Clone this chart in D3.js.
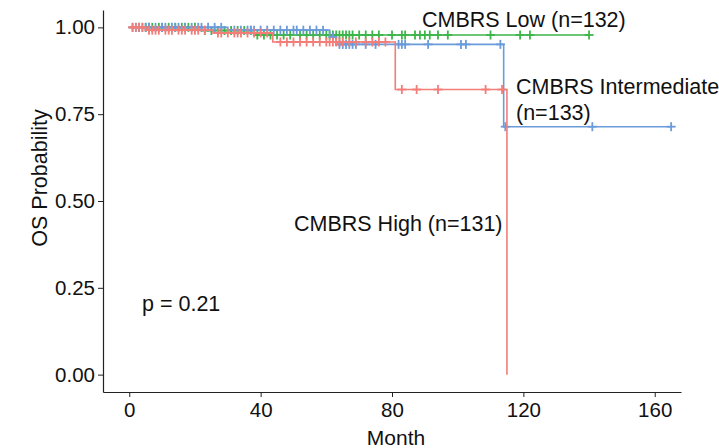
<!DOCTYPE html>
<html>
<head>
<meta charset="utf-8">
<script src="https://cdn.jsdelivr.net/npm/d3@7"></script>
<style>
  html, body { margin: 0; padding: 0; background: #fff; }
  svg { display: block; font-family: "Liberation Sans", Arial, sans-serif; }
  .axis path, .axis line { stroke: #222; }
  .axis text { fill: #111; font-size: 20.5px; }
</style>
</head>
<body>
<svg id="chart" width="719" height="448"></svg>
<script>
// Kaplan-Meier overall survival by CMBRS risk group (months)
const groups = ["CMBRS Low", "CMBRS Intermediate", "CMBRS High"];
const groupN = [132, 133, 131];
const groupColors = ["#3DB54A", "#6A9BDB", "#F37D78"];

// event times and survival probability just after each event
const lowEventTimes = [22, 38];
const lowSurv = [0.991, 0.978];
const lowCensor = [3, 5, 6, 7, 9, 10, 12, 14, 16, 17, 18, 20, 23, 25, 27, 29, 31, 33, 35, 37, 39,
  41, 43, 45, 47, 49, 52, 54, 56, 58, 60, 61, 62, 63, 64, 65, 66, 67, 68, 70, 72, 74, 76, 80,
  83, 84, 87, 88.5, 90, 91.5, 94, 97, 110, 119, 122, 140];
const lowEnd = 140;

const intEventTimes = [30, 61, 63, 114];
const intSurv = [0.992, 0.972, 0.951, 0.714];
const intCensor = [1, 2, 3, 4, 5, 6, 8, 10, 11, 13, 14, 15, 17, 19, 21, 22, 24, 26, 28, 32, 34, 36,
  37, 38, 40, 42, 44, 46, 48, 50, 51, 53, 55, 57, 59, 62, 64, 65, 66, 67, 68, 69, 72, 75, 82,
  83, 84, 91, 101, 102.5, 113, 114.5, 141, 165];
const intEnd = 165;

const highEventTimes = [5, 25.5, 43.7, 81, 115];
const highSurv = [0.992, 0.984, 0.958, 0.821, 0];
const highCensor = [1, 2, 3, 4, 6, 7, 8, 9, 11, 12, 13, 15, 16, 17, 19, 20, 21, 23, 27, 28, 30,
  32, 33, 34, 36, 38, 40, 42, 46, 48, 50, 52, 54, 56, 58, 60, 61, 62, 63, 64, 65, 67, 69, 72,
  74, 76, 78, 83, 87.5, 94, 108.5, 113.5];
const highEnd = 115;

const xTicks = [0, 40, 80, 120, 160];
const yTicks = [0, 0.25, 0.5, 0.75, 1];

const curves = [
  { times: lowEventTimes, surv: lowSurv, censor: lowCensor, end: lowEnd },
  { times: intEventTimes, surv: intSurv, censor: intCensor, end: intEnd },
  { times: highEventTimes, surv: highSurv, censor: highCensor, end: highEnd }
];

const svg = d3.select("#chart");
const x = d3.scaleLinear().domain([-8, 168]).range([103, 681]);
const y = d3.scaleLinear().domain([-0.05, 1.05]).range([392, 10]);

// axes
svg.append("g").attr("class", "axis")
  .attr("transform", `translate(0,${y.range()[0]})`)
  .call(d3.axisBottom(x).tickValues(xTicks).tickFormat(d3.format("d")).tickSize(5).tickPadding(5).tickSizeOuter(0))
  .call(g => g.select(".domain").attr("stroke-width", 1.2));
svg.append("g").attr("class", "axis")
  .attr("transform", `translate(${x.range()[0]},0)`)
  .call(d3.axisLeft(y).tickValues(yTicks).tickFormat(d3.format(".2f")).tickSize(5).tickPadding(3).tickSizeOuter(0))
  .call(g => g.select(".domain").attr("stroke-width", 1.2));

svg.append("text").attr("x", 396).attr("y", 445).attr("text-anchor", "middle")
  .attr("font-size", 21).attr("fill", "#111").text("Month");
svg.append("text").attr("transform", "translate(47,178) rotate(-90)").attr("text-anchor", "middle")
  .attr("font-size", 21.5).attr("fill", "#111").text("OS Probability");

// step function helper
function survAt(c, t) {
  let s = 1;
  c.times.forEach((et, i) => { if (et <= t) s = c.surv[i]; });
  return s;
}

curves.forEach((c, gi) => {
  const color = groupColors[gi];
  const path = d3.path();
  let s = 1;
  path.moveTo(x(0), y(1));
  c.times.forEach((t, i) => {
    path.lineTo(x(t), y(s));
    s = c.surv[i];
    path.lineTo(x(t), y(s));
  });
  if (c.end > c.times[c.times.length - 1]) path.lineTo(x(c.end), y(s));
  svg.append("path").attr("d", path.toString()).attr("fill", "none")
    .attr("stroke", color).attr("stroke-width", 1.6);

  const marks = svg.append("g").attr("stroke", color).attr("stroke-width", 1.8);
  c.censor.forEach(t => {
    const cx = x(t), cy = y(survAt(c, t));
    marks.append("line").attr("x1", cx - 4.5).attr("x2", cx + 4.5).attr("y1", cy).attr("y2", cy);
    marks.append("line").attr("x1", cx).attr("x2", cx).attr("y1", cy - 4.5).attr("y2", cy + 4.5);
  });
});

// group labels
const lab = svg.append("g").attr("font-size", 21.5).attr("fill", "#111");
lab.append("text").attr("x", 422).attr("y", 27).text(`${groups[0]} (n=${groupN[0]})`);
lab.append("text").attr("x", 516).attr("y", 94).text(groups[1]);
lab.append("text").attr("x", 516).attr("y", 120).text(`(n=${groupN[1]})`);
lab.append("text").attr("x", 294).attr("y", 231).text(`${groups[2]} (n=${groupN[2]})`);
lab.append("text").attr("x", 142).attr("y", 311).text("p = 0.21");
</script>
</body>
</html>
